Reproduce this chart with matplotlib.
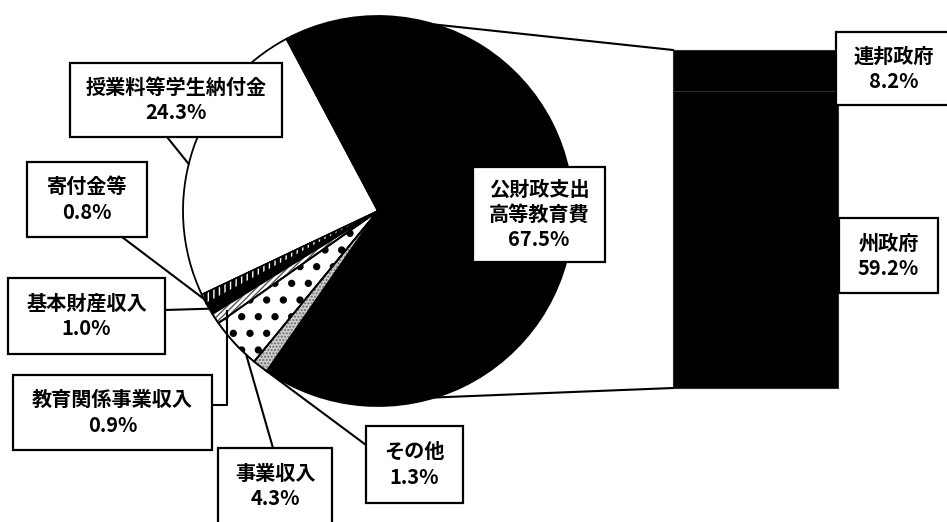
import numpy as np
import matplotlib.pyplot as plt
from matplotlib.patches import Rectangle, Wedge

plt.rcParams['font.family'] = ['Noto Sans CJK JP', 'DejaVu Sans']

# pie slices, counterclockwise starting from the white slice
pie_labels = ['授業料等学生納付金', '寄付金等', '基本財産収入', '教育関係事業収入',
              '事業収入', 'その他', '公財政支出\n高等教育費']
pie_values = [24.3, 0.8, 1.0, 0.9, 4.3, 1.3, 67.5]

# breakdown of 公財政支出 shown as the stacked bar (bottom -> top)
bar_labels = ['州政府', '連邦政府']
bar_values = [59.2, 8.2]

W, H = 947, 522
fig = plt.figure(figsize=(W / 100, H / 100), dpi=100)
ax = fig.add_axes([0, 0, 1, 1])


def Y(y):
    # image rows -> axis units (y up)
    return H - y


# pie
cx, cy, R = 378, Y(211), 195
wedges, _ = ax.pie(pie_values, startangle=118, counterclock=True,
                   center=(cx, cy), radius=R,
                   wedgeprops=dict(edgecolor='black', linewidth=1.3))

fills = ['white', 'black', 'black', 'white', 'white', '#cfcfcf', 'black']
hatches = [None, '|||', None, '//////', '.', '.....', None]
hatch_cols = [None, 'white', None, '#555555', 'black', '#666666', None]
hatch_lw = [1, 1, 1, 1, 2.8, 1, 1]
for w, fc, h, hc, hl in zip(wedges, fills, hatches, hatch_cols, hatch_lw):
    w.set_facecolor(fc)
    if h:
        with plt.rc_context({'hatch.linewidth': hl}):
            ax.add_patch(Wedge((cx, cy), R, w.theta1, w.theta2, facecolor='none',
                               edgecolor=hc, linewidth=0, hatch=h, zorder=w.get_zorder() + 0.1))
        ax.add_patch(Wedge((cx, cy), R, w.theta1, w.theta2, facecolor='none',
                           edgecolor='black', linewidth=1.0, zorder=w.get_zorder() + 0.2))

# stacked bar
bar_left, bar_right = 673, 838
bar_top, bar_bot = 50, 388
scale = (bar_bot - bar_top) / sum(bar_values)
bottoms = Y(bar_bot) + np.concatenate([[0], np.cumsum(bar_values)[:-1]]) * scale
ax.bar((bar_left + bar_right) / 2, np.array(bar_values) * scale, width=bar_right - bar_left,
       bottom=bottoms, color='black', edgecolor='#2e2e2e', linewidth=0.8, zorder=2)

# connector lines pie -> bar
a = np.radians(73)
ax.plot([cx + R * np.cos(a), bar_left], [cy + R * np.sin(a), Y(bar_top)], color='black', lw=1.5)
ax.plot([cx + R * np.cos(-a), bar_left], [cy + R * np.sin(-a), Y(bar_bot)], color='black', lw=1.5)


def edge_point(w, frac=0.5, r=1.0):
    t = np.radians(w.theta1 + frac * (w.theta2 - w.theta1))
    return cx + R * r * np.cos(t), cy + R * r * np.sin(t)


def label_box(x0, x1, y0, y1, text):
    ax.add_patch(Rectangle((x0, Y(y1)), x1 - x0, y1 - y0, facecolor='white',
                           edgecolor='black', linewidth=1.6, zorder=5))
    ax.text((x0 + x1) / 2, Y((y0 + y1) / 2), text, ha='center', va='center',
            fontsize=14.5, fontweight='bold', linespacing=1.25, zorder=6)


def leader(pts):
    xs, ys = zip(*pts)
    ax.plot(xs, ys, color='black', lw=1.5, zorder=4)


# label boxes (image coordinates) and leaders
pct = [f'{v:.1f}%' for v in pie_values]
label_box(70, 282, 63, 137, pie_labels[0] + '\n' + pct[0])
leader([(167, Y(137)), edge_point(wedges[0], 0.55)])

label_box(27, 147, 162, 237, pie_labels[1] + '\n' + pct[1])
leader([(122, Y(237)), edge_point(wedges[1])])

label_box(8, 165, 278, 354, pie_labels[2] + '\n' + pct[2])
leader([(165, Y(310)), edge_point(wedges[2])])

label_box(13, 212, 375, 450, pie_labels[3] + '\n' + pct[3])
ex, ey = edge_point(wedges[3], 0.5, 0.93)
leader([(212, Y(405)), (ex, Y(405)), (ex, ey)])

label_box(218, 332, 448, 524, pie_labels[4] + '\n' + pct[4])
leader([(273, Y(448)), edge_point(wedges[4], 0.8)])

label_box(366, 463, 426, 503, pie_labels[5] + '\n' + pct[5])
leader([(366, Y(445)), edge_point(wedges[5], 0.9)])

label_box(473, 605, 167, 262, pie_labels[6] + '\n' + pct[6])

bar_pct = [f'{v:.1f}%' for v in bar_values]
label_box(836, 952, 32, 105, bar_labels[1] + '\n' + bar_pct[1])
label_box(839, 938, 218, 293, bar_labels[0] + '\n' + bar_pct[0])

ax.set_xlim(0, W)
ax.set_ylim(0, H)
ax.set_aspect('auto')
ax.axis('off')

fig.savefig('out.png', dpi=100)
